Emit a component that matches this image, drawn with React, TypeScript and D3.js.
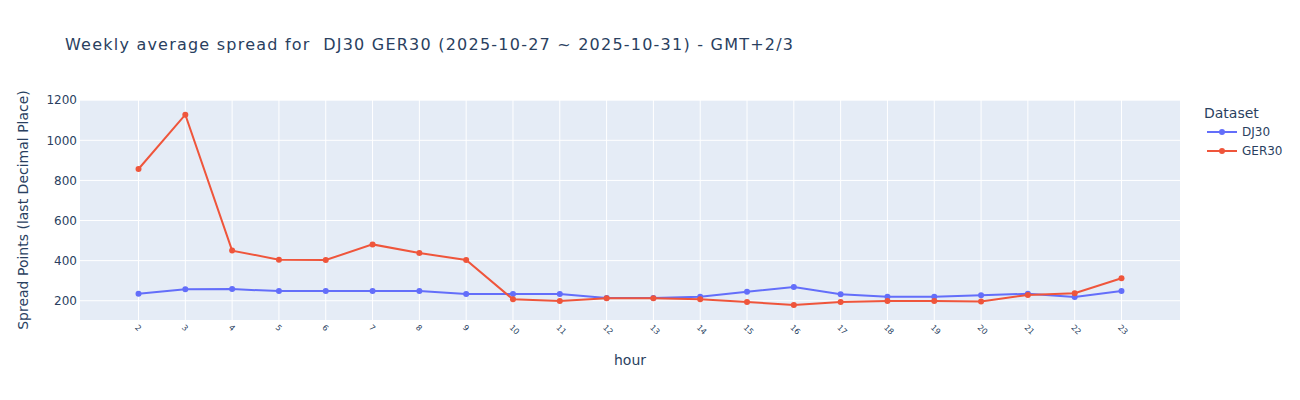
import React from "react";
import * as d3 from "d3";

const hours = [2, 3, 4, 5, 6, 7, 8, 9, 10, 11, 12, 13, 14, 15, 16, 17, 18, 19, 20, 21, 22, 23];
const dj30 = [235, 257, 258, 248, 248, 248, 248, 234, 234, 234, 214, 214, 220, 245, 269, 232, 220, 220, 227, 235, 219, 249];
const ger30 = [857, 1128, 450, 405, 403, 481, 438, 403, 207, 199, 212, 212, 208, 194, 179, 194, 199, 199, 196, 229, 237, 312];
const yTicks = [200, 400, 600, 800, 1000, 1200];
const seriesNames = ["DJ30", "GER30"];
const seriesColors = ["#636efa", "#EF553B"];

const W = 1300, H = 400;
const L = 80, R = 1180, T = 100, B = 320;
const FONT = '"DejaVu Sans", verdana, arial, sans-serif';
const TXT = "#2a3f5f";

export default function App() {
  const x = d3.scaleLinear().domain([0.75, 24.25]).range([L, R]);
  const y = d3.scaleLinear().domain([104, 1201]).range([B, T]);
  const line = d3.line<number>().x((_, i) => x(hours[i])).y((d) => y(d));
  const series = [dj30, ger30];
  return (
    <svg width={W} height={H} style={{ position: "absolute", left: 0, top: 0, fontFamily: FONT }}>
      <rect x={0} y={0} width={W} height={H} fill="#fff" />
      <rect x={L} y={T} width={R - L} height={B - T} fill="#E5ECF6" />
      {hours.map((h) => (
        <line key={"gx" + h} x1={x(h)} x2={x(h)} y1={T} y2={B} stroke="#fff" strokeWidth={1} />
      ))}
      {yTicks.map((t) => (
        <line key={"gy" + t} x1={L} x2={R} y1={y(t)} y2={y(t)} stroke="#fff" strokeWidth={1} />
      ))}
      {yTicks.map((t) => (
        <text key={"ty" + t} x={L - 3} y={y(t)} dy="0.35em" textAnchor="end" fontSize={12} fill={TXT}>
          {t}
        </text>
      ))}
      {hours.map((h) => (
        <text
          key={"tx" + h}
          transform={`translate(${x(h) - 2},${B + 6}) rotate(45)`}
          fontSize={8}
          fill={TXT}
          dy="0.35em"
        >
          {h}
        </text>
      ))}
      <text x={(L + R) / 2} y={365} textAnchor="middle" fontSize={14} fill={TXT}>
        hour
      </text>
      <text transform={`translate(28,${(T + B) / 2}) rotate(-90)`} textAnchor="middle" fontSize={14} fill={TXT}>
        Spread Points (last Decimal Place)
      </text>
      <text
        x={65}
        y={50}
        fontSize={16}
        fill={TXT}
        textLength={728}
        lengthAdjust="spacing"
        style={{ whiteSpace: "pre" }}
      >
        {"Weekly average spread for  DJ30 GER30 (2025-10-27 ~ 2025-10-31) - GMT+2/3"}
      </text>
      <g>
        {series.map((s, k) => (
          <g key={"s" + k}>
            <path d={line(s) || ""} fill="none" stroke={seriesColors[k]} strokeWidth={2} />
            {s.map((v, i) => (
              <circle key={i} cx={x(hours[i])} cy={y(v)} r={3} fill={seriesColors[k]} />
            ))}
          </g>
        ))}
      </g>
      <text x={1204} y={118} fontSize={14} fill={TXT}>
        Dataset
      </text>
      {seriesNames.map((n, k) => (
        <g key={"lg" + n} transform={`translate(1207,${132 + k * 19})`}>
          <line x1={0} x2={30} y1={0} y2={0} stroke={seriesColors[k]} strokeWidth={2} />
          <circle cx={15} cy={0} r={3} fill={seriesColors[k]} />
          <text x={35} y={0} dy="0.35em" fontSize={12} fill={TXT}>
            {n}
          </text>
        </g>
      ))}
    </svg>
  );
}
